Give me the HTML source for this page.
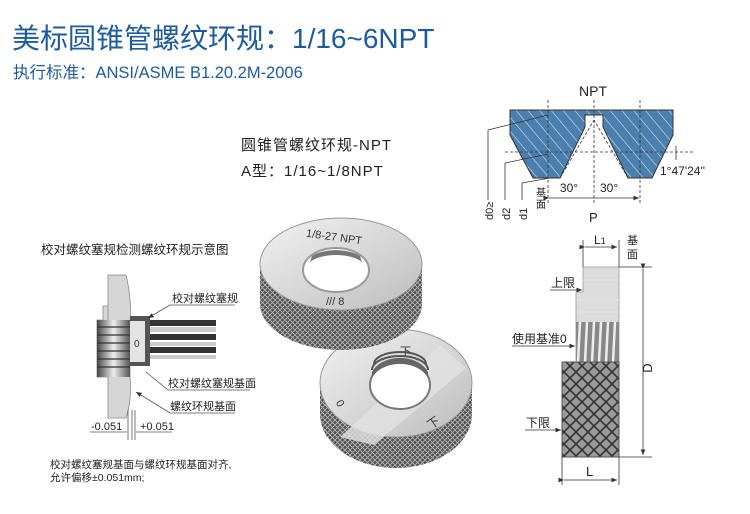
<!DOCTYPE html>
<html><head><meta charset="utf-8">
<style>
html,body{margin:0;padding:0;background:#fff;}
svg{display:block;font-family:"Liberation Sans","Noto Sans CJK SC",sans-serif;}
</style></head><body>
<svg width="750" height="514" viewBox="0 0 750 514" xmlns="http://www.w3.org/2000/svg">
<defs>
<pattern id="kn" width="5" height="5" patternUnits="userSpaceOnUse">
<rect width="5" height="5" fill="#4e4e4e"/>
<path d="M0 0L5 5M5 0L0 5" stroke="#b8b8b8" stroke-width="0.9"/>
</pattern>
<pattern id="kn2" width="12" height="12" patternUnits="userSpaceOnUse">
<rect width="12" height="12" fill="#9a9a9a"/>
<path d="M0 0L12 12M12 0L0 12" stroke="#333" stroke-width="1.6"/>
</pattern>
<pattern id="hatch" width="9" height="9" patternUnits="userSpaceOnUse" patternTransform="rotate(-40)">
<rect width="9" height="9" fill="#4b7fae"/>
<line x1="0" y1="0" x2="0" y2="9" stroke="#cfe0f0" stroke-width="1.2"/>
</pattern>
<linearGradient id="face" x1="0" y1="0" x2="1" y2="1">
<stop offset="0" stop-color="#f2f2f2"/><stop offset="1" stop-color="#bdbdbd"/>
</linearGradient>
<linearGradient id="thr" x1="0" y1="0" x2="1" y2="0">
<stop offset="0" stop-color="#444"/><stop offset="0.5" stop-color="#eee"/><stop offset="1" stop-color="#555"/>
</linearGradient>
<marker id="ar" markerWidth="8" markerHeight="8" refX="7" refY="4" orient="auto"><path d="M0,1 L7,4 L0,7 z" fill="#333"/></marker>
</defs>

<!-- titles -->
<text x="12" y="48" font-size="28" fill="#1e5a9e">美标圆锥管螺纹环规：1/16~6NPT</text>
<text x="13" y="78" font-size="16.5" fill="#1e5a9e">执行标准：ANSI/ASME B1.20.2M-2006</text>

<text x="241" y="150" font-size="15" fill="#222" letter-spacing="1">圆锥管螺纹环规-NPT</text>
<text x="241" y="176" font-size="15" fill="#222" letter-spacing="1">A型：1/16~1/8NPT</text>

<!-- NPT profile -->
<text x="579" y="96" font-size="14" fill="#222">NPT</text>
<path d="M510 110 L673 110 L673 135 L652 178 L628 178 L603 127 L603 115 L585 115 L585 127 L560 178 L533 178 L510 135 Z" fill="url(#hatch)" stroke="#333" stroke-width="1"/>
<g stroke="#333" stroke-width="0.8" stroke-dasharray="3,2" fill="none">
<line x1="548" y1="100" x2="548" y2="205"/>
<line x1="594" y1="100" x2="594" y2="205"/>
<line x1="640" y1="100" x2="640" y2="205"/>
<line x1="505" y1="152" x2="695" y2="152"/>
<line x1="560" y1="178" x2="594" y2="120"/>
<line x1="628" y1="178" x2="594" y2="120"/>
</g>
<g stroke="#333" stroke-width="0.8" fill="none">
<line x1="488" y1="130" x2="548" y2="115"/>
<line x1="505" y1="163" x2="548" y2="154"/>
<line x1="522" y1="183" x2="550" y2="178"/>
<line x1="488" y1="130" x2="488" y2="200"/>
<line x1="505" y1="163" x2="505" y2="200"/>
<line x1="522" y1="183" x2="522" y2="200"/>
<line x1="549" y1="198" x2="639" y2="198" marker-end="url(#ar)" marker-start="url(#ar)"/>
<line x1="676" y1="146" x2="676" y2="160"/>
</g>
<text x="600" y="192" font-size="12" fill="#222">30°</text>
<text x="569" y="192" font-size="12" fill="#222" text-anchor="middle">30°</text>
<text x="660" y="175" font-size="12" fill="#222">1°47'24''</text>
<text x="589" y="222" font-size="13" fill="#222">P</text>
<text x="536" y="196" font-size="10" fill="#222">基</text>
<text x="536" y="208" font-size="10" fill="#222">面</text>
<text transform="translate(493,220) rotate(-90)" font-size="11" fill="#222">d0≥</text>
<text transform="translate(510,220) rotate(-90)" font-size="11" fill="#222">d2</text>
<text transform="translate(527,220) rotate(-90)" font-size="11" fill="#222">d1</text>

<!-- right section diagram -->
<path d="M583 267 L619 267 L619 362 L576 362 L576 292 L583 292 Z" fill="#dcdcdc" stroke="#999" stroke-width="0.8"/>
<g stroke="#eee" stroke-width="0.8"><line x1="580" y1="280" x2="619" y2="280"/><line x1="578" y1="300" x2="619" y2="300"/><line x1="578" y1="312" x2="619" y2="312"/></g>
<rect x="576" y="322" width="43" height="40" fill="#888"/>
<g stroke="#eee" stroke-width="2.5">
<line x1="580" y1="322" x2="578" y2="362"/><line x1="587" y1="322" x2="585" y2="362"/><line x1="594" y1="322" x2="592" y2="362"/><line x1="601" y1="322" x2="599" y2="362"/><line x1="608" y1="322" x2="606" y2="362"/><line x1="615" y1="322" x2="613" y2="362"/>
</g>
<rect x="562" y="362" width="57" height="95" fill="url(#kn2)" stroke="#555" stroke-width="1"/>
<g stroke="#333" stroke-width="0.8" fill="none">
<line x1="583" y1="240" x2="583" y2="267"/><line x1="619" y1="240" x2="619" y2="267"/>
<line x1="585" y1="247" x2="617" y2="247" marker-end="url(#ar)" marker-start="url(#ar)"/>
<line x1="619" y1="267" x2="652" y2="267"/><line x1="619" y1="457" x2="652" y2="457"/>
<line x1="643" y1="269" x2="643" y2="455" marker-end="url(#ar)" marker-start="url(#ar)"/>
<line x1="562" y1="457" x2="562" y2="485"/><line x1="619" y1="457" x2="619" y2="485"/>
<line x1="564" y1="480" x2="617" y2="480" marker-end="url(#ar)" marker-start="url(#ar)"/>
<line x1="550" y1="290" x2="582" y2="290" marker-end="url(#ar)"/>
<line x1="512" y1="346" x2="575" y2="346" marker-end="url(#ar)"/>
<line x1="525" y1="430" x2="561" y2="430" marker-end="url(#ar)"/>
</g>
<text x="594" y="244" font-size="12" fill="#222">L<tspan font-size="9">1</tspan></text>
<text x="627" y="244" font-size="11" fill="#222">基</text>
<text x="627" y="258" font-size="11" fill="#222">面</text>
<text x="551" y="287" font-size="12" fill="#222">上限</text>
<text x="512" y="343" font-size="12" fill="#222">使用基准0</text>
<text x="526" y="427" font-size="12" fill="#222">下限</text>
<text x="586" y="476" font-size="13" fill="#222">L</text>
<text transform="translate(652,368) rotate(-90)" font-size="13" fill="#222" text-anchor="middle">D</text>

<!-- bottom ring -->
<path d="M320 383 L320 414 A76 54 0 0 0 472 414 L472 383 Z" fill="url(#kn)"/>
<ellipse cx="396" cy="383" rx="76" ry="54" fill="url(#face)" stroke="#999"/>
<path d="M340 437 L440 345 L466 368 L374 445 Z" fill="#e2e2e2" opacity="0.8"/>
<ellipse cx="400" cy="385" rx="30" ry="24" fill="#fff" stroke="#777" stroke-width="2"/>
<path d="M372 378 A30 22 0 0 1 428 378 L428 372 A30 22 0 0 0 372 372 Z" fill="#666"/>
<g stroke="#555" stroke-width="2" fill="none"><path d="M372 370 A28 14 0 0 1 428 370"/><path d="M374 364 A26 12 0 0 1 426 364"/></g>
<text x="337" y="408" font-size="11" fill="#333" transform="rotate(60 341 404)">0</text>
<text x="400" y="355" font-size="11" fill="#333">下</text>
<text x="428" y="428" font-size="12" fill="#333" transform="rotate(-35 432 424)">下</text>

<!-- top ring -->
<path d="M260 264 L260 304 A81 46 0 0 0 422 304 L422 264 Z" fill="url(#kn)"/>
<ellipse cx="341" cy="264" rx="81" ry="46" fill="url(#face)" stroke="#999"/>
<ellipse cx="336" cy="270" rx="33" ry="22" fill="#fff" stroke="#999" stroke-width="2"/>
<path d="M310 262 A30 14 0 0 1 362 262 L360 256 A28 12 0 0 0 312 256 Z" fill="#777"/>
<text x="306" y="240" font-size="11" fill="#333" transform="rotate(8 330 236)">1/8-27 NPT</text>
<text x="326" y="305" font-size="11" fill="#333">/// 8</text>

<!-- left schematic -->
<text x="41" y="254" font-size="12.5" fill="#222">校对螺纹塞规检测螺纹环规示意图</text>
<path d="M108 275 L126 275 Q132 300 130 322 L130 377 Q132 400 126 418 L108 418 L108 306 L103 306 L103 320 L97 320 L97 377 L108 377 Z" fill="#d6d6d6" stroke="#888" stroke-width="0.8"/>
<rect x="97" y="320" width="33" height="57" fill="url(#thr)"/>
<g stroke="#333" stroke-width="1.2"><line x1="97" y1="327" x2="130" y2="327"/><line x1="97" y1="335" x2="130" y2="335"/><line x1="97" y1="343" x2="130" y2="343"/><line x1="97" y1="351" x2="130" y2="351"/><line x1="97" y1="359" x2="130" y2="359"/><line x1="97" y1="367" x2="130" y2="367"/></g>
<rect x="130" y="316" width="20" height="50" fill="#555"/>
<path d="M130 321 L145 321 L145 362 L130 362 Z" fill="#e4e4e4"/>
<text x="134" y="347" font-size="10" fill="#333">0</text>
<rect x="150" y="334" width="66" height="6" fill="#333"/>
<rect x="150" y="342" width="66" height="4" fill="#ccc"/>
<rect x="150" y="347" width="66" height="6" fill="#333"/>
<rect x="150" y="355" width="66" height="4" fill="#ccc"/>
<rect x="150" y="320" width="66" height="6" fill="#333"/>
<rect x="150" y="327" width="66" height="5" fill="#ccc"/>
<g stroke="#555" stroke-width="0.8" fill="none">
<line x1="170" y1="305" x2="235" y2="305"/><line x1="170" y1="305" x2="148" y2="318" marker-end="url(#ar)"/>
<line x1="168" y1="390" x2="250" y2="390"/><line x1="168" y1="390" x2="146" y2="372"/>
<line x1="170" y1="413" x2="235" y2="413"/><line x1="170" y1="413" x2="136" y2="392" marker-end="url(#ar)"/>
<line x1="128" y1="410" x2="128" y2="440"/><line x1="132" y1="410" x2="132" y2="440"/><line x1="135" y1="410" x2="135" y2="440"/>
<line x1="90" y1="432" x2="127" y2="432"/><line x1="136" y1="432" x2="172" y2="432"/>
</g>
<text x="172" y="302" font-size="11" fill="#222">校对螺纹塞规</text>
<text x="168" y="387" font-size="11" fill="#222">校对螺纹塞规基面</text>
<text x="170" y="410" font-size="11" fill="#222">螺纹环规基面</text>
<text x="91" y="430" font-size="11" fill="#222">-0.051</text>
<text x="140" y="430" font-size="11" fill="#222">+0.051</text>
<text x="50" y="468" font-size="10.5" fill="#222">校对螺纹塞规基面与螺纹环规基面对齐,</text>
<text x="50" y="481" font-size="10.5" fill="#222">允许偏移±0.051mm;</text>
</svg>
</body></html>
